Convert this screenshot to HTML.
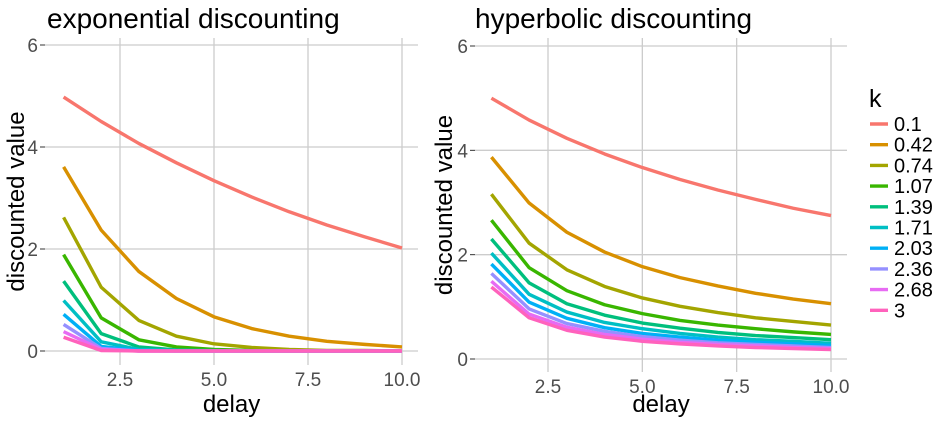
<!DOCTYPE html>
<html><head><meta charset="utf-8"><style>
body{margin:0;background:#fff;}
svg text{font-family:"Liberation Sans",sans-serif;}
</style></head><body>
<svg id="c" width="935" height="424"></svg>
<script>
const delays=[1,2,3,4,5,6,7,8,9,10];
const kLabels=["0.1","0.42","0.74","1.07","1.39","1.71","2.03","2.36","2.68","3"];
const xTicks=[2.5,5.0,7.5,10.0];
const yTicks=[0,2,4,6];
const expValues=[
[4.98,4.50,4.07,3.69,3.34,3.02,2.73,2.47,2.24,2.02],
[3.61,2.37,1.56,1.03,0.67,0.44,0.29,0.19,0.13,0.08],
[2.62,1.25,0.60,0.29,0.14,0.07,0.03,0.01,0.01,0.00],
[1.89,0.65,0.22,0.08,0.03,0.01,0,0,0,0],
[1.37,0.34,0.08,0.02,0.01,0,0,0,0,0],
[0.99,0.18,0.03,0.01,0,0,0,0,0,0],
[0.72,0.09,0.01,0,0,0,0,0,0,0],
[0.52,0.05,0,0,0,0,0,0,0,0],
[0.38,0.03,0,0,0,0,0,0,0,0],
[0.27,0.01,0,0,0,0,0,0,0,0]];
const hypValues=[
[5.00,4.58,4.23,3.93,3.67,3.44,3.24,3.06,2.89,2.75],
[3.87,2.99,2.43,2.05,1.77,1.56,1.40,1.26,1.15,1.06],
[3.16,2.22,1.71,1.39,1.17,1.01,0.89,0.79,0.72,0.65],
[2.66,1.75,1.31,1.04,0.87,0.74,0.65,0.58,0.52,0.47],
[2.30,1.46,1.06,0.84,0.69,0.59,0.51,0.45,0.41,0.37],
[2.03,1.24,0.90,0.70,0.58,0.49,0.42,0.37,0.34,0.30],
[1.82,1.09,0.78,0.60,0.49,0.42,0.36,0.32,0.29,0.26],
[1.64,0.96,0.68,0.53,0.43,0.36,0.31,0.28,0.25,0.22],
[1.49,0.86,0.61,0.47,0.38,0.32,0.28,0.25,0.22,0.20],
[1.38,0.79,0.55,0.42,0.34,0.29,0.25,0.22,0.20,0.18]];
const colors=["#F8766D","#D89000","#A3A500","#39B600","#00BF7D","#00BFC4","#00B0F6","#9590FF","#E76BF3","#FF62BC"];
const NS="http://www.w3.org/2000/svg";
const svg=document.getElementById('c');
function mk(tag,attrs,parent){const e=document.createElementNS(NS,tag);for(const k in attrs)e.setAttribute(k,attrs[k]);(parent||svg).appendChild(e);return e;}
function panel(p){
  const g=mk('g',{});
  
  
  const X=v=>p.x0+(v-2.5)*(p.x1-p.x0)/7.5;
  const Y=v=>p.y0+(v)*(p.y6-p.y0)/6;
  yTicks.forEach(t=>{const l=mk('line',{x1:p.left,x2:p.right,y1:Y(t),y2:Y(t),stroke:'#cccccc','stroke-width':1.3},g);
    
    const tk=mk('line',{x1:p.left-5,x2:p.left,y1:Y(t),y2:Y(t),stroke:'#333','stroke-width':1},g);
    
    const tx=mk('text',{x:p.left-7,y:Y(t)+7,'text-anchor':'end','font-size':19,fill:'#4d4d4d'},g);tx.textContent=t;
    });
  xTicks.forEach(t=>{const l=mk('line',{x1:X(t),x2:X(t),y1:p.top,y2:p.bottom,stroke:'#cccccc','stroke-width':1.3},g);
    
    const tx=mk('text',{x:X(t),y:p.bottom+21,'text-anchor':'middle','font-size':19,fill:'#4d4d4d'},g);tx.textContent=t.toFixed(1);
    });
  p.vals.forEach((s,i)=>{const pl=mk('polyline',{points:s.map((v,j)=>X(delays[j])+','+Y(v)).join(' '),fill:'none',stroke:colors[i],'stroke-width':3.4,'stroke-linejoin':'round'},g);
    });
  const t=mk('text',{x:p.titleX,y:28,'font-size':28,fill:'#000'},g);t.textContent=p.title;
  
  const xt=mk('text',{x:(p.left+p.right)/2,y:412,'text-anchor':'middle','font-size':24,fill:'#000'},g);xt.textContent='delay';
  
  const cy=(p.top+p.bottom)/2;
  const yt=mk('text',{x:p.ytX,y:cy,'text-anchor':'middle','font-size':24,fill:'#000',transform:`rotate(-90 ${p.ytX} ${cy})`},g);yt.textContent='discounted value';
  
}
panel({name:'exponential-panel',vals:expValues,x0:120,x1:402,y0:351,y6:45,left:45,right:418,top:38,bottom:365,title:'exponential discounting',titleX:47,ytX:24});
panel({name:'hyperbolic-panel',vals:hypValues,x0:548,x1:831,y0:359,y6:46,left:475,right:847,top:38,bottom:372,title:'hyperbolic discounting',titleX:475,ytX:452});
const lg=mk('g',{});


const kt=mk('text',{x:869,y:107,'font-size':25,fill:'#000'},lg);kt.textContent='k';

kLabels.forEach((lab,i)=>{const y=124+i*20.7;
  const e=mk('g',{},lg);
  
  
  mk('line',{x1:870,x2:888,y1:y,y2:y,stroke:colors[i],'stroke-width':3.4},e);
  const t=mk('text',{x:894,y:y+7,'font-size':20,fill:'#000'},e);t.textContent=lab;});
</script>
</body></html>
